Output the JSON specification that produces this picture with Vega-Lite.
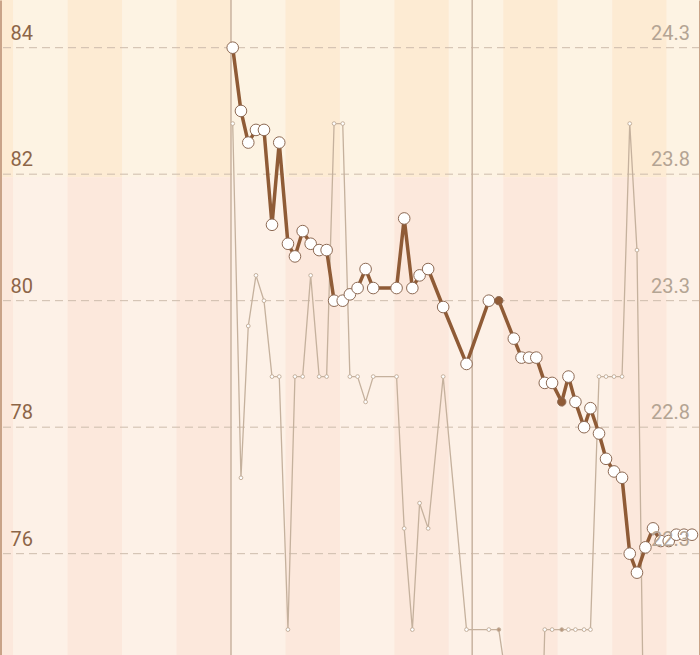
{
  "$schema": "https://vega.github.io/schema/vega-lite/v6.json",
  "width": 700,
  "height": 655,
  "padding": 0,
  "autosize": {"type": "none"},
  "background": "#fdf1e7",
  "config": {
    "view": {"stroke": null},
    "axis": {"labelFont": "Roboto", "labelFontSize": 20, "ticks": false, "tickSize": 0, "grid": false, "title": null, "labelOverlap": false, "labelBound": false, "labelFlush": false, "labelLimit": 0, "labelBaseline": "alphabetic", "labelOffset": -8.5},
    "axisLeft": {"labelAlign": "left", "labelPadding": -10, "labelColor": "#8d6547", "domain": true, "domainColor": "#c9a388", "domainWidth": 3},
    "axisRight": {"labelAlign": "right", "labelPadding": -10.5, "labelColor": "#b4a493", "domain": true, "domainColor": "#c9a388", "domainWidth": 3}
  },
  "datasets": {
    "weeks": [
      {"start": -35, "end": -28, "tone": "dark"},
      {"start": -28, "end": -21, "tone": "light"},
      {"start": -21, "end": -14, "tone": "dark"},
      {"start": -14, "end": -7, "tone": "light"},
      {"start": -7, "end": 0, "tone": "dark"},
      {"start": 0, "end": 7, "tone": "light"},
      {"start": 7, "end": 14, "tone": "dark"},
      {"start": 14, "end": 21, "tone": "light"},
      {"start": 21, "end": 28, "tone": "dark"},
      {"start": 28, "end": 35, "tone": "light"},
      {"start": 35, "end": 42, "tone": "dark"},
      {"start": 42, "end": 49, "tone": "light"},
      {"start": 49, "end": 56, "tone": "dark"},
      {"start": 56, "end": 63, "tone": "light"}
    ],
    "grid": [{"level": 76}, {"level": 78}, {"level": 80}, {"level": 82}, {"level": 84}],
    "months": [{"start": 0}, {"start": 31}],
    "readings": [
      {"t": 0.22, "weight": 84.0, "other": 24.0, "source": "auto"},
      {"t": 1.28, "weight": 83.0, "other": 22.6, "source": "auto"},
      {"t": 2.22, "weight": 82.5, "other": 23.2, "source": "auto"},
      {"t": 3.21, "weight": 82.7, "other": 23.4, "source": "auto"},
      {"t": 4.24, "weight": 82.7, "other": 23.3, "source": "auto"},
      {"t": 5.27, "weight": 81.2, "other": 23.0, "source": "auto"},
      {"t": 6.20, "weight": 82.5, "other": 23.0, "source": "auto"},
      {"t": 7.32, "weight": 80.9, "other": 22.0, "source": "auto"},
      {"t": 8.22, "weight": 80.7, "other": 23.0, "source": "auto"},
      {"t": 9.21, "weight": 81.1, "other": 23.0, "source": "auto"},
      {"t": 10.24, "weight": 80.9, "other": 23.4, "source": "auto"},
      {"t": 11.33, "weight": 80.8, "other": 23.0, "source": "auto"},
      {"t": 12.29, "weight": 80.8, "other": 23.0, "source": "auto"},
      {"t": 13.25, "weight": 80.0, "other": 24.0, "source": "auto"},
      {"t": 14.36, "weight": 80.0, "other": 24.0, "source": "auto"},
      {"t": 15.28, "weight": 80.1, "other": 23.0, "source": "auto"},
      {"t": 16.27, "weight": 80.2, "other": 23.0, "source": "auto"},
      {"t": 17.30, "weight": 80.5, "other": 22.9, "source": "auto"},
      {"t": 18.28, "weight": 80.2, "other": 23.0, "source": "auto"},
      {"t": 21.28, "weight": 80.2, "other": 23.0, "source": "auto"},
      {"t": 22.26, "weight": 81.3, "other": 22.4, "source": "auto"},
      {"t": 23.31, "weight": 80.2, "other": 22.0, "source": "auto"},
      {"t": 24.24, "weight": 80.4, "other": 22.5, "source": "auto"},
      {"t": 25.34, "weight": 80.5, "other": 22.4, "source": "auto"},
      {"t": 27.27, "weight": 79.9, "other": 23.0, "source": "auto"},
      {"t": 30.27, "weight": 79.0, "other": 22.0, "source": "auto"},
      {"t": 33.14, "weight": 80.0, "other": 22.0, "source": "auto"},
      {"t": 34.42, "weight": 80.0, "other": 22.0, "source": "manual"},
      {"t": 36.35, "weight": 79.4, "other": 21.6, "source": "auto"},
      {"t": 37.34, "weight": 79.1, "other": 21.3, "source": "auto"},
      {"t": 38.31, "weight": 79.1, "other": 21.0, "source": "auto"},
      {"t": 39.24, "weight": 79.1, "other": 20.8, "source": "auto"},
      {"t": 40.33, "weight": 78.7, "other": 22.0, "source": "auto"},
      {"t": 41.27, "weight": 78.7, "other": 22.0, "source": "auto"},
      {"t": 42.51, "weight": 78.4, "other": 22.0, "source": "manual"},
      {"t": 43.37, "weight": 78.8, "other": 22.0, "source": "auto"},
      {"t": 44.27, "weight": 78.4, "other": 22.0, "source": "auto"},
      {"t": 45.38, "weight": 78.0, "other": 22.0, "source": "auto"},
      {"t": 46.20, "weight": 78.3, "other": 22.0, "source": "auto"},
      {"t": 47.30, "weight": 77.9, "other": 23.0, "source": "auto"},
      {"t": 48.20, "weight": 77.5, "other": 23.0, "source": "auto"},
      {"t": 49.23, "weight": 77.3, "other": 23.0, "source": "auto"},
      {"t": 50.26, "weight": 77.2, "other": 23.0, "source": "auto"},
      {"t": 51.25, "weight": 76.0, "other": 24.0, "source": "auto"},
      {"t": 52.18, "weight": 75.7, "other": 23.5, "source": "auto"},
      {"t": 53.26, "weight": 76.1, "other": 21.1, "source": "auto"},
      {"t": 54.24, "weight": 76.4, "other": 21.1, "source": "auto"},
      {"t": 55.23, "weight": 76.2, "other": 21.1, "source": "auto"},
      {"t": 56.26, "weight": 76.2, "other": 21.1, "source": "auto"},
      {"t": 57.24, "weight": 76.3, "other": 21.1, "source": "auto"},
      {"t": 58.22, "weight": 76.3, "other": 21.1, "source": "auto"},
      {"t": 59.25, "weight": 76.3, "other": 21.1, "source": "auto"}
    ]
  },
  "layer": [
    {
      "layer": [
        {
          "data": {"name": "weeks"},
          "mark": {"type": "rect", "clip": true},
          "encoding": {
            "x": {"field": "start", "type": "quantitative", "scale": {"domain": [-29.69, 60.28], "nice": false, "zero": false}, "axis": null},
            "x2": {"field": "end"},
            "y": {"datum": 81.95, "type": "quantitative", "scale": {"domain": [74.398, 84.754], "nice": false, "zero": false}},
            "y2": {"datum": 84.754},
            "fill": {"condition": {"test": "datum.tone === 'dark'", "value": "#fdebd3"}, "value": "#fdf3e3"}
          }
        },
        {
          "data": {"name": "weeks"},
          "mark": {"type": "rect", "clip": true},
          "encoding": {
            "x": {"field": "start", "type": "quantitative"},
            "x2": {"field": "end"},
            "y": {"datum": 74.398, "type": "quantitative"},
            "y2": {"datum": 81.95},
            "fill": {"condition": {"test": "datum.tone === 'dark'", "value": "#fce8dc"}, "value": "#fdf1e7"}
          }
        },
        {
          "data": {"name": "grid"},
          "mark": {"type": "rule", "color": "#cdbcac", "strokeDash": [8, 5], "strokeWidth": 1},
          "encoding": {
            "y": {"field": "level", "type": "quantitative", "axis": {"orient": "left", "zindex": 1, "format": "d", "values": [76, 78, 80, 82, 84]}}
          }
        },
        {
          "data": {"name": "months"},
          "mark": {"type": "rule", "color": "#c8b3a0", "strokeWidth": 1.5},
          "encoding": {
            "x": {"field": "start", "type": "quantitative"}
          }
        }
      ]
    },
    {
      "data": {"name": "readings"},
      "encoding": {
        "x": {"field": "t", "type": "quantitative", "axis": null},
        "y": {"field": "other", "type": "quantitative", "scale": {"domain": [21.8996, 24.4885], "nice": false, "zero": false}, "axis": {"orient": "right", "zindex": 1, "values": [22.3, 22.8, 23.3, 23.8, 24.3], "format": ".1f"}}
      },
      "layer": [
        {"mark": {"type": "line", "clip": true, "color": "#c5b19d", "strokeWidth": 1.3}},
        {
          "mark": {"type": "point", "clip": true, "filled": true, "stroke": "#c5b19d", "strokeWidth": 1, "size": 14, "opacity": 1},
          "encoding": {
            "fill": {"condition": {"test": "datum.source === 'manual'", "value": "#b8977c"}, "value": "#ffffff"}
          }
        }
      ]
    },
    {
      "data": {"name": "readings"},
      "encoding": {
        "x": {"field": "t", "type": "quantitative", "axis": null},
        "y": {"field": "weight", "type": "quantitative", "scale": {"domain": [74.398, 84.754], "nice": false, "zero": false}, "axis": null}
      },
      "layer": [
        {"mark": {"type": "line", "color": "#8f5b36", "strokeWidth": 3.5}},
        {
          "mark": {"type": "point", "filled": true, "stroke": "#8d6a54", "strokeWidth": 1, "opacity": 1},
          "encoding": {
            "fill": {"condition": {"test": "datum.source === 'manual'", "value": "#8f5b36"}, "value": "#ffffff"},
            "size": {"condition": {"test": "datum.source === 'manual'", "value": 70}, "value": 135}
          }
        }
      ]
    }
  ],
  "resolve": {"scale": {"y": "independent"}}
}
